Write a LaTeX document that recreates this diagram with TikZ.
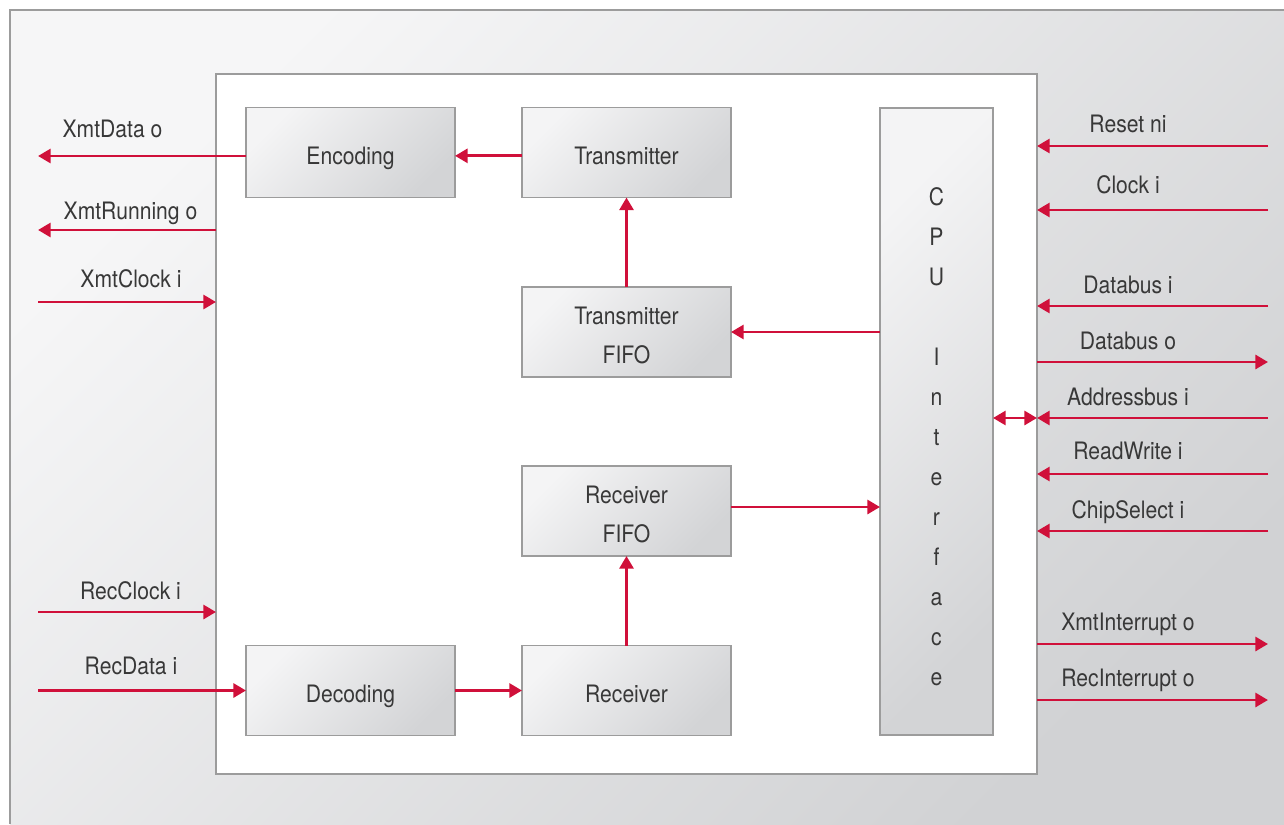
\documentclass[tikz,border=0pt]{standalone}
\usepackage{fontspec}
\setmainfont[FakeStretch=0.88]{TeX Gyre Heros}
\usetikzlibrary{arrows.meta}
\definecolor{accent}{HTML}{D0103A}
\definecolor{txt}{HTML}{383838}
\definecolor{bord}{HTML}{9C9C9C}
\definecolor{panelL}{HTML}{F6F6F7}
\definecolor{panelD}{HTML}{D1D2D4}
\definecolor{boxL}{HTML}{F4F4F5}
\definecolor{boxD}{HTML}{D3D4D6}
\begin{document}
\begin{tikzpicture}[x=0.75pt,y=-0.75pt,
  blockbox/.style={draw=bord, line width=0.9pt, top color=boxL, bottom color=boxD, shading angle=45,
    minimum width=156.75pt, minimum height=67.5pt, inner sep=0pt, outer sep=0pt,
    text=txt, align=center, font=\fontsize{18}{29}\selectfont},
  oneline/.style={text height=18pt, text depth=0pt},
  twoline/.style={text height=46.5pt, text depth=0pt},
  sig/.style={draw=accent, line width=2.2pt, -{Triangle[length=9.5pt,width=10.5pt]}},
  dsig/.style={draw=accent, line width=2.2pt, {Triangle[length=9.5pt,width=10.5pt]}-{Triangle[length=9.5pt,width=10.5pt]}},
  lbl/.style={text=txt, inner sep=0pt, anchor=base, font=\fontsize{18}{22}\selectfont}]
\useasboundingbox (0,0) rectangle (1284,824);
\shade[top color=panelL, bottom color=panelD, shading angle=45] (10,10) rectangle (1284,824);
\draw[bord, line width=1pt] (10,824) -- (10,10) -- (1284,10);
\node[draw=bord, line width=1pt, fill=white, minimum width=615.75pt, minimum height=525pt, inner sep=0pt, outer sep=0pt] (inner) at (626.5,424) {};
% blocks
\node[blockbox, oneline] (enc) at (350.5,152.5) {Encoding};
\node[blockbox, oneline] (tx) at (626.5,152.5) {Transmitter};
\node[blockbox, twoline] (txf) at (626.5,332) {Transmitter\\FIFO};
\node[blockbox, twoline] (rxf) at (626.5,511) {Receiver\\FIFO};
\node[blockbox, oneline] (rx) at (626.5,690.5) {Receiver};
\node[blockbox, oneline] (dec) at (350.5,690.5) {Decoding};
\node[blockbox, minimum width=84.75pt, minimum height=470.25pt] (cpu) at (936.5,421.5) {};
\node[text=txt, align=center, inner sep=0pt, font=\fontsize{18}{30}\selectfont] (cputext) at (936.5,437) {C\\P\\U\\[30pt]I\\n\\t\\e\\r\\f\\a\\c\\e};
% internal connectors
\draw[sig] ([yshift=-2.5pt]tx.west) -- ([yshift=-2.5pt]enc.east);
\draw[sig] (txf.north) -- (tx.south);
\draw[sig] (cpu.west |- txf) -- (txf.east);
\draw[sig] ([yshift=3pt]rxf.east) -- ([yshift=3pt]cpu.west |- rxf);
\draw[sig] (rx.north) -- (rxf.south);
\draw[sig] (dec.east) -- (rx.west);
% left side
\coordinate (xd) at (38,156);
\coordinate (xr) at (38,230);
\coordinate (xc) at (38,302);
\coordinate (rc) at (38,612);
\coordinate (rd) at (38,690.5);
\draw[sig] (enc.west |- xd) -- (xd);
\draw[sig] (inner.west |- xr) -- (xr);
\draw[sig] (xc) -- (inner.west |- xc);
\draw[sig] (rc) -- (inner.west |- rc);
\draw[sig] (rd) -- (dec.west);
\node[lbl] (lxd) at (112.5,137) {XmtData o};
\node[lbl] (lxr) at (130.5,219) {XmtRunning o};
\node[lbl] (lxc) at (131,287) {XmtClock i};
\node[lbl] (lrc) at (130.5,599) {RecClock i};
\node[lbl] (lrd) at (131,674) {RecData i};
% right side
\coordinate (rs) at (1268,146);
\coordinate (ck) at (1268,210);
\coordinate (dbi) at (1268,306);
\coordinate (dbo) at (1268,362);
\coordinate (ab) at (1268,418);
\coordinate (rw) at (1268,474);
\coordinate (cs) at (1268,531);
\coordinate (xi) at (1268,644);
\coordinate (ri) at (1268,700);
\draw[sig] (rs) -- (inner.east |- rs);
\draw[sig] (ck) -- (inner.east |- ck);
\draw[sig] (dbi) -- (inner.east |- dbi);
\draw[sig] (inner.east |- dbo) -- (dbo);
\draw[sig] (ab) -- (inner.east |- ab);
\draw[sig] (rw) -- (inner.east |- rw);
\draw[sig] (cs) -- (inner.east |- cs);
\draw[sig] (inner.east |- xi) -- (xi);
\draw[sig] (inner.east |- ri) -- (ri);
\draw[dsig] (cpu.east |- ab) -- (inner.east |- ab);
\node[lbl] (lrs) at (1128,132) {Reset ni};
\node[lbl] (lck) at (1128,193) {Clock i};
\node[lbl] (ldbi) at (1128,293) {Databus i};
\node[lbl] (ldbo) at (1128,349) {Databus o};
\node[lbl] (lab) at (1128,405) {Addressbus i};
\node[lbl] (lrw) at (1128,459) {ReadWrite i};
\node[lbl] (lcs) at (1128,518) {ChipSelect i};
\node[lbl] (lxi) at (1128,630) {XmtInterrupt o};
\node[lbl] (lri) at (1128,686) {RecInterrupt o};
\end{tikzpicture}
\end{document}
